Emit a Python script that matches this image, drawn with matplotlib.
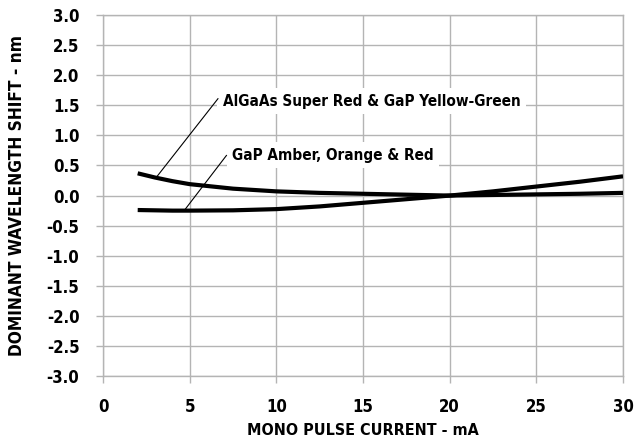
import matplotlib
matplotlib.use('Agg')
import matplotlib.pyplot as plt

# Values
current_ma = [2, 3, 4, 5, 7.5, 10, 12.5, 15, 17.5, 20, 22.5, 25, 27.5, 30]
shift_algaas = [0.37, 0.30, 0.24, 0.19, 0.115, 0.07, 0.045, 0.03, 0.015, 0.0, 0.01, 0.02, 0.03, 0.045]
shift_gap = [-0.24, -0.245, -0.25, -0.25, -0.245, -0.225, -0.18, -0.12, -0.06, 0.0, 0.07, 0.15, 0.23, 0.32]

x_ticks = [0, 5, 10, 15, 20, 25, 30]
y_ticks = [3.0, 2.5, 2.0, 1.5, 1.0, 0.5, 0.0, -0.5, -1.0, -1.5, -2.0, -2.5, -3.0]
y_tick_labels = ['3.0', '2.5', '2.0', '1.5', '1.0', '0.5', '0.0',
                 '-0.5', '-1.0', '-1.5', '-2.0', '-2.5', '-3.0']

label_algaas = 'AlGaAs Super Red & GaP Yellow-Green'
label_gap = 'GaP Amber, Orange & Red'

plt.rcParams['font.family'] = ['DejaVu Sans']
plt.rcParams['font.stretch'] = 'condensed'
plt.rcParams['font.weight'] = 'bold'

grid_color = '#b4b4b4'

fig = plt.figure(figsize=(6.36, 4.43), dpi=100)
ax = fig.add_axes([0.162, 0.151, 0.8176, 0.815])

ax.plot(current_ma, shift_algaas, color='black', linewidth=3.0,
        solid_capstyle='butt', zorder=4)
ax.plot(current_ma, shift_gap, color='black', linewidth=3.0,
        solid_capstyle='butt', zorder=4)

ax.set_xlim(0, 30)
ax.set_ylim(-3, 3)
ax.set_xticks(x_ticks)
ax.set_yticks(y_ticks, y_tick_labels)
ax.grid(True, color=grid_color, linewidth=1.0, zorder=0)
ax.set_axisbelow(True)
for spine in ax.spines.values():
    spine.set_color(grid_color)
    spine.set_linewidth(1.0)
ax.tick_params(axis='both', colors=grid_color, length=5, width=1.0,
               labelcolor='black', labelsize=12, pad=11)
ax.tick_params(axis='y', pad=12)

ax.set_xlabel('MONO PULSE CURRENT - mA', fontsize=11.5, fontweight='bold', labelpad=5)
ax.set_ylabel('DOMINANT WAVELENGTH SHIFT - nm', fontsize=12.4, fontweight='bold', labelpad=15)

# leader lines and labels
box = dict(facecolor='white', edgecolor='none', boxstyle='square,pad=0.35')
ax.plot([3.12, 6.63], [0.32, 1.61], color='black', linewidth=0.8, zorder=3)
ax.text(6.9, 1.57, label_algaas, fontsize=11, fontweight='bold',
        ha='left', va='center', bbox=box, zorder=2)
ax.plot([4.72, 7.12], [-0.235, 0.667], color='black', linewidth=0.8, zorder=3)
ax.text(7.45, 0.67, label_gap, fontsize=11, fontweight='bold',
        ha='left', va='center', bbox=box, zorder=2)

fig.savefig('out.png', dpi=100)
